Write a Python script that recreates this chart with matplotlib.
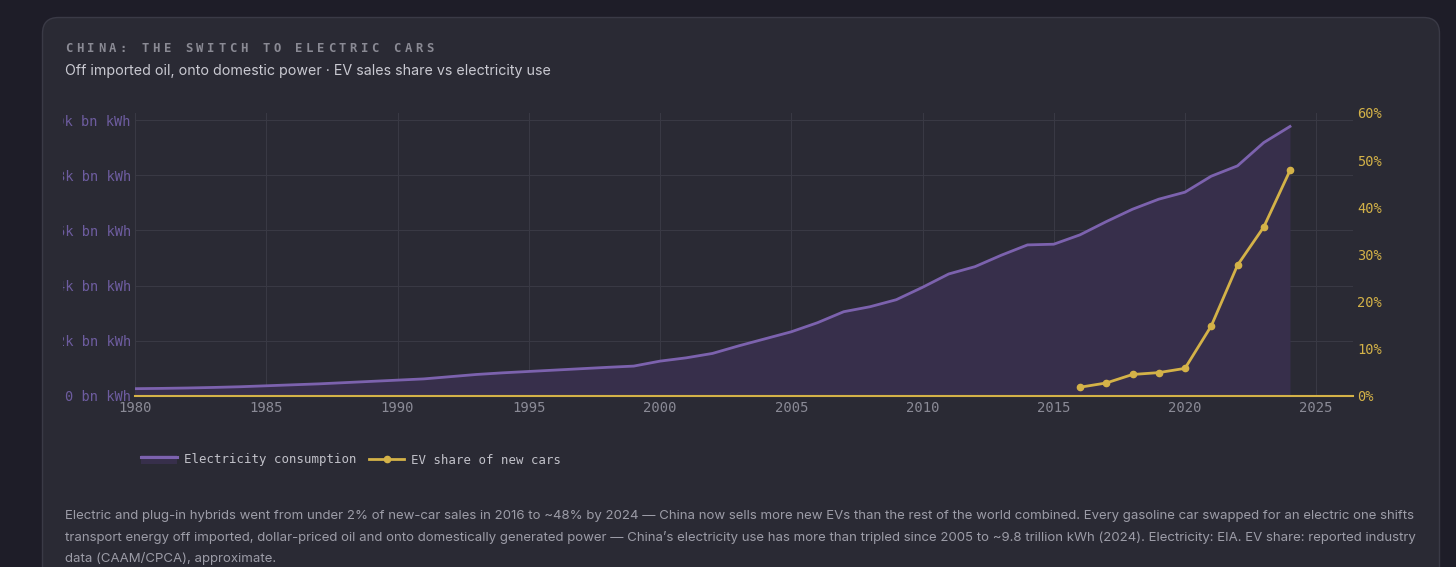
import numpy as np
import matplotlib
matplotlib.use("Agg")
import matplotlib.pyplot as plt
from matplotlib.patches import FancyBboxPatch, Rectangle
from matplotlib.lines import Line2D
from matplotlib.transforms import IdentityTransform, Bbox

# ---- data ----
years = list(range(1980, 2025))
elec = [255, 265, 280, 300, 325, 360, 395, 430, 475, 520,
        565, 610, 690, 770, 830, 880, 930, 980, 1030, 1075,
        1255, 1375, 1535, 1810, 2065, 2320, 2650, 3050, 3230, 3485,
        3935, 4420, 4685, 5100, 5475, 5500, 5840, 6320, 6770, 7135,
        7390, 7970, 8345, 9190, 9775]
ev_years = [2016, 2017, 2018, 2019, 2020, 2021, 2022, 2023, 2024]
ev_share = [1.8, 2.7, 4.5, 4.9, 5.8, 14.8, 27.7, 35.8, 47.8]

x_ticks = [1980, 1985, 1990, 1995, 2000, 2005, 2010, 2015, 2020, 2025]
left_ticks = [0, 2000, 4000, 6000, 8000, 10000]
left_labels = ["0 bn kWh", "2k bn kWh", "4k bn kWh", "6k bn kWh", "8k bn kWh", "10k bn kWh"]
right_ticks = [0, 10, 20, 30, 40, 50, 60]
right_labels = ["0%", "10%", "20%", "30%", "40%", "50%", "60%"]

title = "CHINA: THE SWITCH TO ELECTRIC CARS"
subtitle = "Off imported oil, onto domestic power \u00b7 EV sales share vs electricity use"
notes = [
    "Electric and plug-in hybrids went from under 2% of new-car sales in 2016 to ~48% by 2024 \u2014 China now sells more new EVs than the rest of the world combined. Every gasoline car swapped for an electric one shifts",
    "transport energy off imported, dollar-priced oil and onto domestically generated power \u2014 China\u2019s electricity use has more than tripled since 2005 to ~9.8 trillion kWh (2024). Electricity: EIA. EV share: reported industry",
    "data (CAAM/CPCA), approximate.",
]

# ---- colours ----
page_bg = "#1e1d28"
card_bg = "#2a2a34"
card_edge = "#3a3a46"
grid_c = "#393944"
purple = "#7c62ae"
purple_fill = "#372f4b"
gold = "#d4b248"
muted = "#8a8a96"
mono = "DejaVu Sans Mono"
sans = ["Inter", "DejaVu Sans"]

W, H = 1456, 567
fig = plt.figure(figsize=(W / 100, H / 100), dpi=100, facecolor=page_bg)


def fx(x):
    return x / W


def fy(y):
    return 1 - y / H


# card
card = FancyBboxPatch((42.5, -40), 1397, 590 - 0.5,
                      boxstyle="round,pad=0,rounding_size=16",
                      transform=IdentityTransform(), facecolor=card_bg,
                      edgecolor=card_edge, linewidth=1.0, zorder=-5)
fig.patches.append(card)

# title with wide letter spacing
for i, ch in enumerate(title):
    fig.text(fx(65 + i * 10.95), fy(48.5), ch, fontsize=8.8, family=mono,
             fontweight="bold", color="#8a8a94", va="center", ha="left")
fig.text(fx(65), fy(71.5), subtitle, fontsize=10.25, family=sans,
         color="#c9c9d1", va="center", ha="left")

# ---- axes ----
ax = fig.add_axes([fx(135), fy(395.7), fx(1353) - fx(135), fy(113) - fy(395.7)])
ax.set_facecolor("none")
ax.fill_between(years, elec, 0, color=purple_fill, linewidth=0, zorder=1)
ax.plot(years, elec, color=purple, linewidth=2.0, zorder=3, solid_joinstyle="round")
ax.set_xlim(1980, 2026.4)
ax.set_ylim(0, 10264)
ax.set_xticks(x_ticks)
ax.set_yticks(left_ticks)
ax.set_yticklabels(left_labels)
ax.grid(True, color=grid_c, linewidth=0.8, zorder=0)
ax.set_axisbelow(True)
for s in ax.spines.values():
    s.set_visible(False)
ax.tick_params(axis="both", length=0)
ax.tick_params(axis="x", colors=muted, labelsize=10, pad=4)
ax.tick_params(axis="y", colors="#6d5c9f", labelsize=9.8, pad=3)
for lab in ax.get_xticklabels() + ax.get_yticklabels():
    lab.set_family(mono)
clip = Bbox.from_extents(63, 0, W, H)
for lab in ax.get_yticklabels():
    lab.set_clip_box(clip)
    lab.set_clip_on(True)

ax2 = ax.twinx()
ax2.set_ylim(0, 60)
ax2.set_yticks(right_ticks)
ax2.set_yticklabels(right_labels)
ax2.axhline(0, color=gold, linewidth=1.5, zorder=2, clip_on=False)
ax2.plot(ev_years, ev_share, color=gold, linewidth=2.0, marker="o",
         markersize=4.5, zorder=4)
for s in ax2.spines.values():
    s.set_visible(False)
ax2.tick_params(axis="y", length=0, colors=gold, labelsize=9.8, pad=3)
for lab in ax2.get_yticklabels():
    lab.set_family(mono)

# ---- legend (drawn by hand to match the reference) ----
fig.patches.append(Rectangle((141, H - 464), 36, 9, transform=IdentityTransform(),
                             facecolor=purple_fill, edgecolor="none"))
fig.lines.append(Line2D([fx(141), fx(177)], [fy(456.5), fy(456.5)],
                        transform=fig.transFigure, color=purple, linewidth=2.2))
fig.text(fx(184), fy(460), "Electricity consumption", fontsize=8.9, family=mono,
         color="#c2c2ca", va="center", ha="left")
fig.lines.append(Line2D([fx(369), fx(404)], [fy(459), fy(459)],
                        transform=fig.transFigure, color=gold, linewidth=2.0))
fig.lines.append(Line2D([fx(386.5)], [fy(459)], transform=fig.transFigure,
                        color=gold, marker="o", markersize=4.5))
fig.text(fx(411), fy(460), "EV share of new cars", fontsize=8.9, family=mono,
         color="#c2c2ca", va="center", ha="left")

# ---- footnote ----
for i, line in enumerate(notes):
    fig.text(fx(65), fy(516.5 + i * 21), line, fontsize=9.5, family=sans,
             color="#9c9ca7", va="center", ha="left")

fig.savefig("out.png", dpi=100, facecolor=page_bg)
